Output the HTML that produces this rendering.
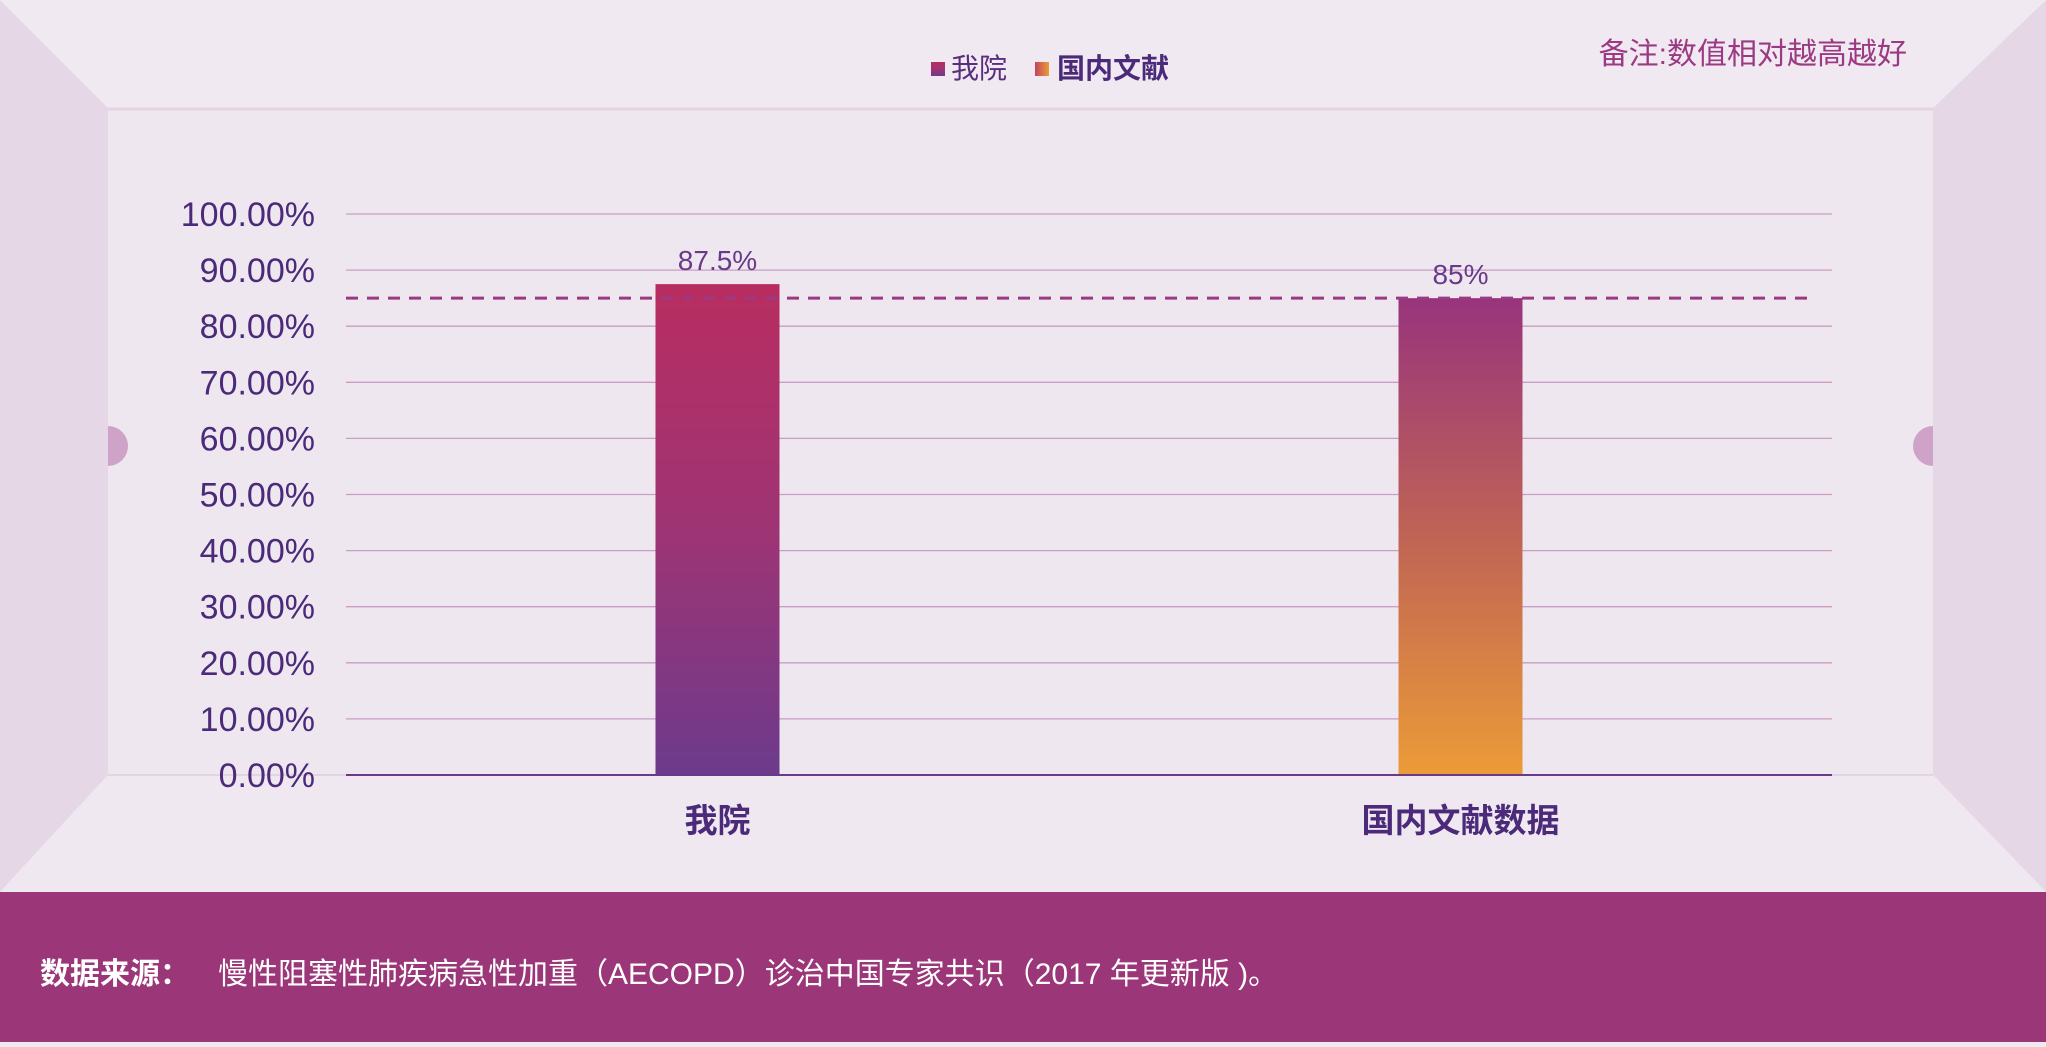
<!DOCTYPE html>
<html><head><meta charset="utf-8">
<style>
html,body{margin:0;padding:0;}
body{width:2046px;height:1042px;overflow:hidden;background:#efe9f1;font-family:"Liberation Sans","Noto Sans CJK SC",sans-serif;}
svg text{font-family:"Liberation Sans","Noto Sans CJK SC",sans-serif;}
</style></head>
<body>
<svg id="chart" width="2046" height="1042" viewBox="0 0 2046 1042" xmlns="http://www.w3.org/2000/svg">
<defs>
<linearGradient id="g1" x1="0" y1="0" x2="0" y2="1"><stop offset="0" stop-color="#b82d60"/><stop offset="0.5" stop-color="#9e3474"/><stop offset="1" stop-color="#6d3a8c"/></linearGradient>
<linearGradient id="g2" x1="0" y1="0" x2="0" y2="1"><stop offset="0" stop-color="#98347c"/><stop offset="0.5" stop-color="#c06455"/><stop offset="1" stop-color="#ec9b37"/></linearGradient>
<linearGradient id="lg2" x1="0" y1="0" x2="1" y2="0"><stop offset="0" stop-color="#c0455f"/><stop offset="1" stop-color="#ec9b37"/></linearGradient>
</defs>
<rect x="0" y="0" width="2046" height="1042" fill="#efe9f1"/>
<polygon points="0,0 108,108 108,775 0,892" fill="#e6d7e6"/>
<polygon points="2046,0 1933,108 1933,775 2046,892" fill="#e6d7e6"/>
<polygon points="0,0 2046,0 1933,108 108,108" fill="#f0e9f1"/>
<polygon points="108,775 1933,775 2046,892 0,892" fill="#efe8f1"/>
<rect x="108" y="108" width="1825" height="667" fill="#eee7f0"/>
<line x1="108" y1="109" x2="1933" y2="109" stroke="#e2d4e3" stroke-width="3"/>
<line x1="108" y1="775" x2="1933" y2="775" stroke="#e2d4e3" stroke-width="2"/>
<path d="M108,426 A20,20 0 0 1 108,466 Z" fill="#cfa3c8"/>
<path d="M1933,426 A20,20 0 0 0 1933,466 Z" fill="#cfa3c8"/>
<g id="grid"></g>
<g id="bars"></g>
<g id="labels"></g>
<g>
<rect x="931" y="62" width="14" height="14" fill="url(#g1)"/>
<text x="951" y="78" font-size="28" fill="#5a2e7e">我院</text>
<rect x="1035" y="62" width="14" height="14" fill="url(#lg2)"/>
<text x="1057" y="78" font-size="28" font-weight="bold" fill="#4b2a7a">国内文献</text>
</g>
<text x="1907" y="64" text-anchor="end" font-size="30" fill="#9b3a82">备注:数值相对越高越好</text>
<rect x="0" y="892" width="2046" height="150" fill="#9b3679"/>
<text x="40" y="984" font-size="30" fill="#ffffff"><tspan font-weight="bold">数据来源：</tspan><tspan x="218">慢性阻塞性肺疾病急性加重（AECOPD）诊治中国专家共识（2017 年更新版 )。</tspan></text>
</svg>
<script>
const categories = ["我院", "国内文献数据"];
const values = [87.5, 85];
const valueLabels = ["87.5%", "85%"];
const yTicks = [0, 10, 20, 30, 40, 50, 60, 70, 80, 90, 100];
const yTickLabels = ["0.00%","10.00%","20.00%","30.00%","40.00%","50.00%","60.00%","70.00%","80.00%","90.00%","100.00%"];
const referenceValue = [85];
const fills = ["url(#g1)", "url(#g2)"];

const NS = "http://www.w3.org/2000/svg";
const plotL = 346, plotR = 1832, plotT = 214, plotB = 775;
function y(v){ return plotB - (v/100)*(plotB-plotT); }
const band = (plotR-plotL)/categories.length;
function xc(i){ return plotL + band*(i+0.5); }
const barW = 124;

const grid = document.getElementById('grid');
yTicks.forEach((t,i)=>{
  if (t !== 0) {
    const l = document.createElementNS(NS,'line');
    
    
    l.setAttribute('x1', plotL); l.setAttribute('x2', plotR);
    l.setAttribute('y1', y(t)); l.setAttribute('y2', y(t));
    l.setAttribute('stroke', '#c99ec2'); l.setAttribute('stroke-width', '1.3');
    grid.appendChild(l);
  }
  const tx = document.createElementNS(NS,'text');
  
  
  tx.setAttribute('x', 315); tx.setAttribute('y', y(t)+12);
  tx.setAttribute('text-anchor', 'end'); tx.setAttribute('font-size', '34');
  tx.setAttribute('fill', '#4b2a7a');
  tx.textContent = yTickLabels[i];
  grid.appendChild(tx);
});

const bars = document.getElementById('bars');
values.forEach((v,i)=>{
  const r = document.createElementNS(NS,'rect');
  
  
  r.setAttribute('x', xc(i)-barW/2); r.setAttribute('width', barW);
  r.setAttribute('y', y(v)); r.setAttribute('height', plotB - y(v));
  r.setAttribute('fill', fills[i]);
  bars.appendChild(r);
});
const axis = document.createElementNS(NS,'line');


axis.setAttribute('x1', plotL); axis.setAttribute('x2', plotR);
axis.setAttribute('y1', plotB); axis.setAttribute('y2', plotB);
axis.setAttribute('stroke', '#6a3a8a'); axis.setAttribute('stroke-width', '2');
bars.appendChild(axis);
const ref = document.createElementNS(NS,'line');


ref.setAttribute('x1', plotL); ref.setAttribute('x2', 1811);
ref.setAttribute('y1', y(referenceValue[0])); ref.setAttribute('y2', y(referenceValue[0]));
ref.setAttribute('stroke', '#9b3a82'); ref.setAttribute('stroke-width', '3');
ref.setAttribute('stroke-dasharray', '12 9');
bars.appendChild(ref);

const labels = document.getElementById('labels');
values.forEach((v,i)=>{
  const t = document.createElementNS(NS,'text');
  
  
  t.setAttribute('x', xc(i)); t.setAttribute('y', y(v)-14);
  t.setAttribute('text-anchor', 'middle'); t.setAttribute('font-size', '28');
  t.setAttribute('fill', '#6a3a8a');
  t.textContent = valueLabels[i];
  labels.appendChild(t);
  const c = document.createElementNS(NS,'text');
  
  
  c.setAttribute('x', xc(i)); c.setAttribute('y', 832);
  c.setAttribute('text-anchor', 'middle'); c.setAttribute('font-size', '33');
  c.setAttribute('font-weight', 'bold'); c.setAttribute('fill', '#4b2a7a');
  c.textContent = categories[i];
  labels.appendChild(c);
});
</script>
</body></html>
